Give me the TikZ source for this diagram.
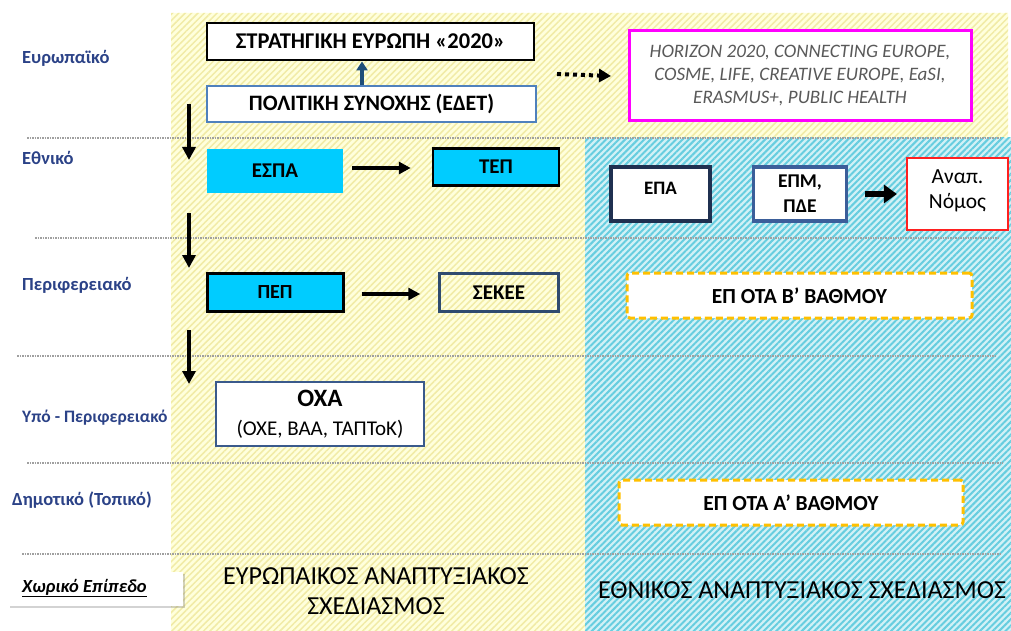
\documentclass[tikz,border=0pt]{standalone}
\usepackage{fontspec}
\setmainfont{Carlito}
\usetikzlibrary{arrows.meta,patterns.meta,shadows}
\definecolor{lvl}{HTML}{2B4287}
\definecolor{ybg}{HTML}{FFFFDC}
\definecolor{ystr}{HTML}{F1EBA6}
\definecolor{bbg}{HTML}{D2F1F6}
\definecolor{bstr}{HTML}{66CDDF}
\definecolor{cyanbox}{HTML}{00CCFF}
\definecolor{polblue}{HTML}{4F81BD}
\definecolor{arrblue}{HTML}{1F4E79}
\definecolor{navy}{HTML}{1F3050}
\definecolor{epmblue}{HTML}{3B5E9A}
\definecolor{slate}{HTML}{2F4B6F}
\definecolor{oxablue}{HTML}{3A5A8C}
\definecolor{orangeb}{HTML}{FFC000}
\definecolor{magentab}{HTML}{FF00FF}
\definecolor{redb}{HTML}{FF2020}
\definecolor{progray}{HTML}{595959}
\definecolor{sepgray}{HTML}{A0A0A0}
\begin{document}
\begin{tikzpicture}[x=1pt,y=-1pt,
  lvltext/.style={anchor=west,text=lvl,font=\bfseries\fontsize{18.5}{22}\selectfont,inner sep=0pt},
  sepline/.style={draw=sepgray,line width=1.1pt,dash pattern=on 1.5pt off 1pt},
  bx/.style={rectangle,inner sep=0pt,align=center,font=\bfseries\fontsize{21}{24}\selectfont},
  dnarrow/.style={line width=4pt,-{Triangle[length=13pt,width=13pt]}},
  harrow/.style={line width=3.5pt,-{Triangle[length=12pt,width=12pt]}},
  otabox/.style={bx,fill=white,draw=orangeb,line width=3pt,dash pattern=on 7pt off 4pt,rounded corners=3pt,
    font=\bfseries\fontsize{21.5}{24}\selectfont},
  bigtitle/.style={align=center,font=\fontsize{26}{30}\selectfont,inner sep=0pt}
]
\useasboundingbox (0,0) rectangle (1011,631);
% backgrounds
\fill[ybg] (171,13) -- (1008,13) -- (1008,138) -- (585,138) -- (585,631) -- (171,631) -- cycle;
\fill[pattern={Lines[angle=45,distance=4.5pt,line width=1.5pt]},pattern color=ystr]
  (171,13) -- (1008,13) -- (1008,138) -- (585,138) -- (585,631) -- (171,631) -- cycle;
\fill[bbg] (585,138) rectangle (1011,631);
\fill[pattern={Lines[angle=45,distance=4.5pt,line width=2pt]},pattern color=bstr]
  (585,138) rectangle (1011,631);
% separator lines
\draw[sepline] (27,138) -- (1000,138);
\draw[sepline] (35,238) -- (1000,238);
\draw[sepline] (17,356) -- (995,356);
\draw[sepline] (27,463) -- (1003,463);
\draw[sepline] (22,554) -- (1000,554);
% level labels
\node[lvltext] (l1) at (22,58) {Ευρωπαϊκό};
\node[lvltext] (l2) at (22,158) {Εθνικό};
\node[lvltext] (l3) at (22,285) {Περιφερειακό};
\node[lvltext,font=\bfseries\fontsize{17.5}{22}\selectfont] (l4) at (22,418) {Υπό - Περιφερειακό};
\node[lvltext] (l5) at (12,500) {Δημοτικό (Τοπικό)};
\node[rectangle,fill=white,minimum width=175pt,minimum height=34pt,inner sep=0pt,
  drop shadow={opacity=0.35,shadow xshift=1.5pt,shadow yshift=-1.5pt}] (xwbox) at (95.5,589) {};
\node[anchor=west,inner sep=0pt,font=\bfseries\itshape\fontsize{18.5}{22}\selectfont] (xw) at (22,588)
  {\underline{Χωρικό Επίπεδο}};
% European boxes
\node[bx,draw=black,line width=2.8pt,fill=white,minimum width=327pt,minimum height=37pt,
  font=\bfseries\fontsize{22.5}{26}\selectfont] (str) at (370.5,41.5) {ΣΤΡΑΤΗΓΙΚΗ ΕΥΡΩΠΗ «2020»};
\node[bx,draw=polblue,line width=1.8pt,fill=white,minimum width=329pt,minimum height=36pt,
  font=\bfseries\fontsize{22}{26}\selectfont] (pol) at (371.5,104) {ΠΟΛΙΤΙΚΗ ΣΥΝΟΧΗΣ (ΕΔΕΤ)};
\draw[arrblue,line width=3.5pt,-{Triangle[length=9pt,width=11pt]}] (pol.north -| 362,0) -- (str.south -| 362,0);
\node[bx,draw=magentab,line width=3pt,fill=white,minimum width=342pt,minimum height=90pt,
  font=\itshape\fontsize{19}{23}\selectfont,text=progray] (prog) at (800,76)
  {HORIZON 2020, CONNECTING EUROPE,\\COSME, LIFE, CREATIVE EUROPE, EaSI,\\ERASMUS+, PUBLIC HEALTH};
\coordinate (dotstart) at (557,74);
\draw[line width=4pt,dash pattern=on 4pt off 4pt,-{Triangle[length=12pt,width=13pt]}] (dotstart) -- (prog.west -| 611,0);
% National
\node[bx,fill=cyanbox,minimum width=136pt,minimum height=44pt] (espa) at (275,171) {ΕΣΠΑ};
\node[bx,fill=cyanbox,draw=black,line width=2.5pt,minimum width=126pt,minimum height=37pt] (tep) at (496,167) {ΤΕΠ};
\draw[harrow] ([xshift=9pt]espa.east |- 0,168) -- ([xshift=-21pt]tep.west |- 0,168);
\node[bx,fill=white,draw=navy,line width=4pt,minimum width=99pt,minimum height=54pt,
  label={[font=\bfseries\fontsize{19}{24}\selectfont,inner sep=0pt,yshift=6pt]center:ΕΠΑ}] (epa) at (660.5,194) {};
\node[bx,fill=white,draw=epmblue,line width=3.5pt,minimum width=93pt,minimum height=54pt,
  font=\bfseries\fontsize{19.5}{25}\selectfont] (epm) at (800,194) {ΕΠΜ,\\ΠΔΕ};
\node[bx,fill=white,draw=redb,line width=2.2pt,minimum width=101pt,minimum height=72pt,
  label={[align=center,font=\fontsize{21.5}{25}\selectfont,inner sep=0pt,yshift=3pt]center:Αναπ.\\Νόμος}] (nomos) at (957.5,194) {};
\draw[line width=6pt,-{Triangle[length=13pt,width=18pt]}] ([xshift=17pt]epm.east) -- ([xshift=-9pt]nomos.west);
% Regional
\node[bx,fill=cyanbox,draw=black,line width=3pt,minimum width=136pt,minimum height=38pt,
  font=\bfseries\fontsize{20}{24}\selectfont] (pep) at (275,292.5) {ΠΕΠ};
\node[bx,draw=slate,line width=2.5pt,minimum width=119pt,minimum height=38pt] (sekee) at (499,292.5) {ΣΕΚΕΕ};
\draw[harrow] ([xshift=17pt]pep.east |- 0,294) -- ([xshift=-18pt]sekee.west |- 0,294);
\node[otabox,minimum width=345pt,minimum height=45pt] (otab) at (799.5,295.5) {ΕΠ ΟΤΑ Β’ ΒΑΘΜΟΥ};
% Sub-regional
\node[bx,fill=white,draw=oxablue,line width=2pt,minimum width=208pt,minimum height=64pt,
  font=\fontsize{21}{29}\selectfont] (oxa) at (320,414) {{\bfseries\fontsize{25}{29}\selectfont ΟΧΑ}\\(ΟΧΕ, ΒΑΑ, ΤΑΠΤοΚ)};
% Local
\node[otabox,minimum width=344pt,minimum height=45pt] (otaa) at (791,502.5) {ΕΠ ΟΤΑ Α’ ΒΑΘΜΟΥ};
% down arrows
\coordinate (d1s) at (189,104); \coordinate (d1e) at (189,160);
\coordinate (d2s) at (189,213); \coordinate (d2e) at (189,268);
\coordinate (d3s) at (189,330); \coordinate (d3e) at (189,384);
\draw[dnarrow] (d1s) -- (d1e);
\draw[dnarrow] (d2s) -- (d2e);
\draw[dnarrow] (d3s) -- (d3e);
% bottom titles
\node[bigtitle] (eur) at (376,591) {ΕΥΡΩΠΑΙΚΟΣ ΑΝΑΠΤΥΞΙΑΚΟΣ\\ΣΧΕΔΙΑΣΜΟΣ};
\node[bigtitle] (eth) at (802,590) {ΕΘΝΙΚΟΣ ΑΝΑΠΤΥΞΙΑΚΟΣ ΣΧΕΔΙΑΣΜΟΣ};
\end{tikzpicture}
\end{document}
